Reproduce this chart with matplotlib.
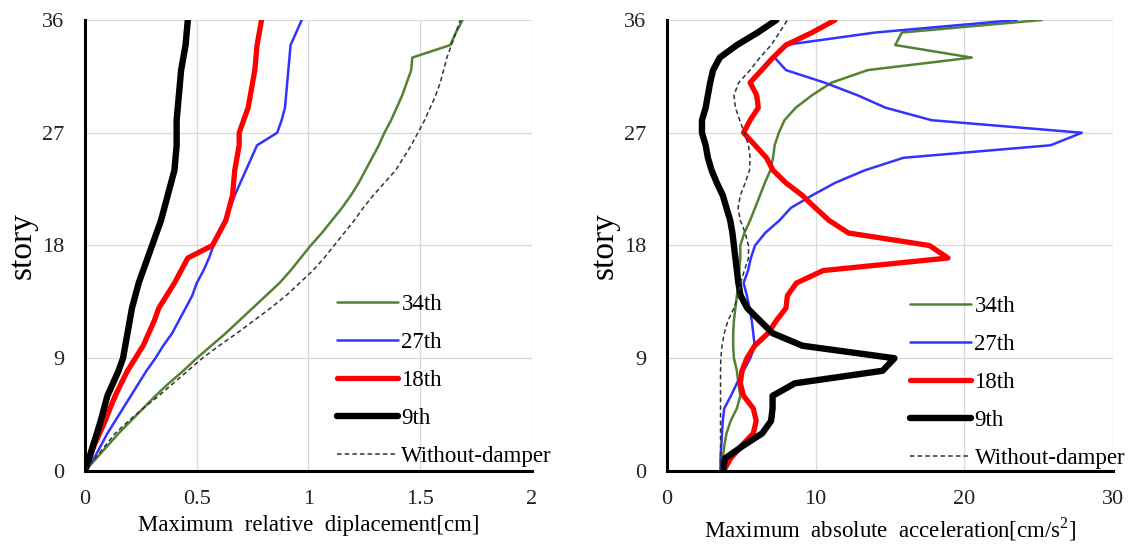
import matplotlib
matplotlib.use("Agg")
import matplotlib.pyplot as plt

plt.rcParams['font.family'] = ['Liberation Serif', 'DejaVu Serif']
plt.rcParams['mathtext.fontset'] = 'custom'
plt.rcParams['mathtext.rm'] = 'Liberation Serif'

story = list(range(37))

# Maximum relative displacement [cm], story 0..36
disp_34th = [0, 0.05, 0.10, 0.15, 0.205, 0.26, 0.315, 0.375, 0.44, 0.50, 0.565, 0.63, 0.69,
             0.75, 0.81, 0.87, 0.92, 0.965, 1.01, 1.06, 1.105, 1.15, 1.19, 1.225, 1.255,
             1.285, 1.315, 1.34, 1.37, 1.395, 1.42, 1.44, 1.46, 1.465, 1.635, 1.66, 1.69]
disp_27th = [0, 0.04, 0.07, 0.10, 0.135, 0.17, 0.205, 0.24, 0.275, 0.315, 0.35, 0.39, 0.42,
             0.45, 0.48, 0.50, 0.53, 0.555, 0.575, 0.60, 0.625, 0.65, 0.67, 0.695, 0.72,
             0.745, 0.77, 0.86, 0.88, 0.895, 0.90, 0.905, 0.91, 0.915, 0.92, 0.945, 0.97]
disp_18th = [0, 0.02, 0.04, 0.065, 0.09, 0.112, 0.135, 0.162, 0.19, 0.225, 0.26, 0.285, 0.31,
             0.33, 0.365, 0.40, 0.43, 0.46, 0.57, 0.60, 0.63, 0.645, 0.66, 0.665, 0.67,
             0.68, 0.69, 0.69, 0.71, 0.73, 0.74, 0.75, 0.76, 0.765, 0.77, 0.78, 0.79]
disp_9th = [0, 0.018, 0.035, 0.053, 0.07, 0.085, 0.10, 0.125, 0.15, 0.17, 0.18, 0.19, 0.20,
            0.21, 0.225, 0.24, 0.26, 0.28, 0.30, 0.32, 0.34, 0.355, 0.37, 0.385, 0.40,
            0.405, 0.41, 0.41, 0.41, 0.415, 0.42, 0.425, 0.43, 0.44, 0.45, 0.455, 0.46]
disp_none = [0, 0.045, 0.09, 0.135, 0.195, 0.26, 0.33, 0.395, 0.46, 0.525, 0.60, 0.68, 0.755,
             0.83, 0.90, 0.96, 1.02, 1.07, 1.115, 1.16, 1.205, 1.245, 1.29, 1.34, 1.39,
             1.425, 1.46, 1.49, 1.52, 1.545, 1.57, 1.59, 1.605, 1.62, 1.64, 1.66, 1.68]

# Maximum absolute acceleration [cm/s2], story 0..36
acc_34th = [3.7, 3.75, 3.85, 4.0, 4.28, 4.7, 4.93, 4.8, 4.7, 4.5, 4.45, 4.45, 4.5,
            4.6, 4.7, 4.8, 4.85, 4.93, 4.93, 5.2, 5.59, 5.92, 6.25, 6.58, 6.95,
            7.13, 7.24, 7.52, 7.9, 8.66, 9.76, 11.07, 13.5, 20.5, 15.35, 15.8, 25.2]
acc_27th = [3.6, 3.6, 3.65, 3.7, 3.75, 3.85, 4.3, 4.7, 5.15, 5.6, 5.9, 5.8, 5.7,
            5.55, 5.37, 5.15, 5.45, 5.64, 5.92, 6.6, 7.56, 8.33, 9.76, 11.3, 13.3,
            15.9, 25.8, 27.9, 17.8, 14.7, 12.8, 10.6, 8.0, 7.24, 7.9, 14.0, 23.5]
acc_18th = [3.8, 4.28, 5.0, 5.8, 6.0, 5.8, 5.15, 4.93, 5.04, 5.37, 5.9, 6.8, 7.35,
            8.0, 8.1, 8.7, 10.5, 18.9, 17.65, 12.2, 10.9, 9.98, 9.1, 8.0, 7.13,
            6.69, 5.92, 5.15, 5.59, 6.14, 6.03, 5.59, 6.36, 7.13, 8.0, 9.76, 11.3]
acc_9th = [3.75, 3.9, 5.1, 6.4, 7.0, 7.1, 7.1, 8.6, 14.5, 15.3, 9.1, 7.1, 6.25,
           5.4, 4.95, 4.8, 4.7, 4.6, 4.5, 4.4, 4.25, 4.0, 3.75, 3.35, 3.0,
           2.75, 2.6, 2.35, 2.35, 2.6, 2.75, 2.9, 3.1, 3.55, 4.7, 6.1, 7.35]
acc_none = [3.6, 3.6, 3.6, 3.6, 3.6, 3.6, 3.6, 3.6, 3.6, 3.62, 3.7, 3.85, 4.1,
            4.5, 4.8, 4.95, 5.2, 5.48, 5.48, 5.26, 4.93, 4.78, 4.93, 5.26, 5.55,
            5.59, 5.48, 5.2, 4.89, 4.6, 4.5, 4.82, 5.59, 6.25, 7.0, 7.56, 8.1]

labels = ['34th', '27th', '18th', '9th', 'Without-damper']
colors = ['#548235', '#3333ff', '#ff0000', '#000000', '#333333']
widths = [1.8, 1.8, 3.8, 4.6, 1.1]

fig = plt.figure(figsize=(11.34, 5.45), dpi=100)
ax1 = fig.add_axes([0.075, 0.1358, 0.394, 0.8275])
ax2 = fig.add_axes([0.5882, 0.1358, 0.3933, 0.8275])

panels = [
    (ax1, [disp_34th, disp_27th, disp_18th, disp_9th, disp_none], (0, 2),
     [0, 0.5, 1, 1.5, 2], ['0', '0.5', '1', '1.5', '2'],
     'Maximum  relative  diplacement[cm]', (0.564, 0.008)),
    (ax2, [acc_34th, acc_27th, acc_18th, acc_9th, acc_none], (0, 30),
     [0, 10, 20, 30], ['0', '10', '20', '30'],
     r'Maximum  absolute  acceleration[cm/s$^{2}$]', (0.545, 0.005)),
]

for ax, series, xlim, xt, xtl, xlabel, legpos in panels:
    handles = []
    for vals, lab, c, lw in zip(series, labels, colors, widths):
        ls = (0, (3, 2)) if lab == 'Without-damper' else '-'
        h, = ax.plot(vals, story, color=c, lw=lw, ls=ls, label=lab,
                     solid_capstyle='round', solid_joinstyle='round')
        handles.append(h)
    ax.set_xlim(*xlim)
    ax.set_ylim(0, 36)
    ax.set_xticks(xt)
    ax.set_xticklabels(xtl)
    ax.set_yticks([0, 9, 18, 27, 36])
    ax.grid(True, color='#d9d9d9', lw=0.9)
    ax.set_axisbelow(True)
    for s in ['top', 'right']:
        ax.spines[s].set_visible(False)
    for s in ['left', 'bottom']:
        ax.spines[s].set_linewidth(2.2)
        ax.spines[s].set_color('black')
    ax.tick_params(length=0, labelsize=16, colors='#222222')
    ax.tick_params(axis='y', pad=15)
    ax.tick_params(axis='x', pad=14)
    ax.set_xlabel(xlabel, fontsize=16.5, labelpad=4)
    ax.set_ylabel('story', fontsize=24, labelpad=3)
    ax.legend(handles=handles, loc='lower left', bbox_to_anchor=legpos,
              frameon=False, fontsize=16.5, handlelength=2.66, handletextpad=0.15,
              labelspacing=0.74, borderpad=0, borderaxespad=0)

fig.savefig('out.png', dpi=100)
